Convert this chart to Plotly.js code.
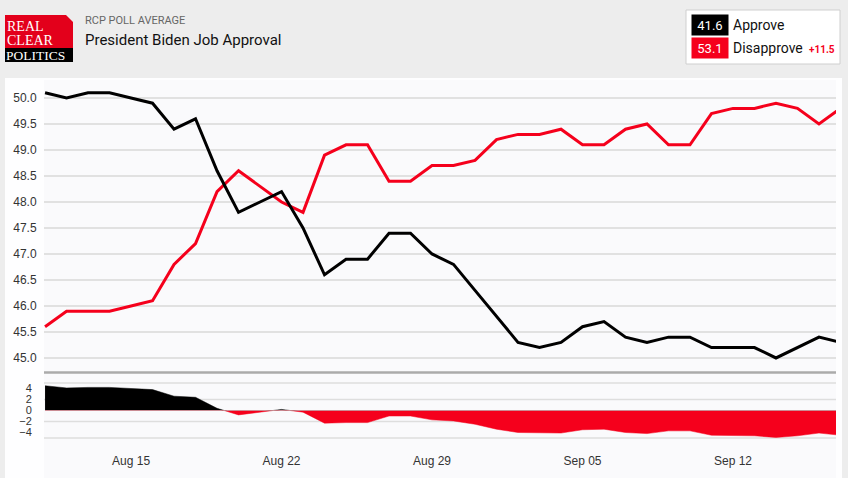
<!DOCTYPE html>
<html>
<head>
<meta charset="utf-8">
<script src="https://cdn.plot.ly/plotly-3.0.1.min.js"></script>
<style>
  html, body { margin: 0; padding: 0; background: #ededed; }
  #chart { width: 848px; height: 478px; }
</style>
</head>
<body>
<div id="chart"></div>
<script>
// daily RCP averages, Aug 11 - Sep 17 2021
var dates = ['2021-08-11','2021-08-12','2021-08-13','2021-08-14','2021-08-15','2021-08-16','2021-08-17','2021-08-18',
  '2021-08-19','2021-08-20','2021-08-21','2021-08-22','2021-08-23','2021-08-24','2021-08-25','2021-08-26',
  '2021-08-27','2021-08-28','2021-08-29','2021-08-30','2021-08-31','2021-09-01','2021-09-02','2021-09-03',
  '2021-09-04','2021-09-05','2021-09-06','2021-09-07','2021-09-08','2021-09-09','2021-09-10','2021-09-11',
  '2021-09-12','2021-09-13','2021-09-14','2021-09-15','2021-09-16','2021-09-17'];

var approve = [50.1, 50.0, 50.1, 50.1, 50.0, 49.9, 49.4, 49.6,
  48.6, 47.8, 48.0, 48.2, 47.5, 46.6, 46.9, 46.9,
  47.4, 47.4, 47.0, 46.8, 46.3, 45.8, 45.3, 45.2,
  45.3, 45.6, 45.7, 45.4, 45.3, 45.4, 45.4, 45.2,
  45.2, 45.2, 45.0, 45.2, 45.4, 45.3];

var disapprove = [45.6, 45.9, 45.9, 45.9, 46.0, 46.1, 46.8, 47.2,
  48.2, 48.6, 48.3, 48.0, 47.8, 48.9, 49.1, 49.1,
  48.4, 48.4, 48.7, 48.7, 48.8, 49.2, 49.3, 49.3,
  49.4, 49.1, 49.1, 49.4, 49.5, 49.1, 49.1, 49.7,
  49.8, 49.8, 49.9, 49.8, 49.5, 49.8];

var spread = [4.5, 4.1, 4.2, 4.2, 4.0, 3.8, 2.6, 2.4,
  0.4, -0.8, -0.3, 0.2, -0.3, -2.3, -2.2, -2.2,
  -1.0, -1.0, -1.7, -1.9, -2.5, -3.4, -4.0, -4.1,
  -4.1, -3.5, -3.4, -4.0, -4.2, -3.7, -3.7, -4.5,
  -4.6, -4.6, -4.9, -4.6, -4.1, -4.5];

var mainTicks = [45.0, 45.5, 46.0, 46.5, 47.0, 47.5, 48.0, 48.5, 49.0, 49.5, 50.0];
var spreadTicksUp = [0, 2, 4];
var spreadTicksDown = [-2, -4];
var spreadGrid = [5, 2, -2, -5];

var legendApprove = '41.6';
var legendDisapprove = '53.1';
var legendSpread = '+11.5';

var RED = '#f5001c';
var W = 848, H = 478;
function px(x) { return x / W; }
function py(y) { return 1 - y / H; }

var traces = [
  { x: dates, y: disapprove, name: 'Disapprove', type: 'scatter', mode: 'lines',
    line: { color: RED, width: 3 }, xaxis: 'x', yaxis: 'y' },
  { x: dates, y: approve, name: 'Approve', type: 'scatter', mode: 'lines',
    line: { color: '#000', width: 3 }, xaxis: 'x', yaxis: 'y' },
  // spread: same data on two half-axes so each colour clips at zero
  { x: dates, y: spread, type: 'scatter', mode: 'lines', fill: 'tozeroy',
    fillcolor: '#000', line: { color: '#000', width: 0.5 }, xaxis: 'x', yaxis: 'y2' },
  { x: dates, y: spread, type: 'scatter', mode: 'lines', fill: 'tozeroy',
    fillcolor: RED, line: { color: RED, width: 0.5 }, xaxis: 'x', yaxis: 'y3' }
];

var tickFont = { family: 'Liberation Sans, Arial, sans-serif', size: 12, color: '#333' };
var spreadFont = { family: 'Liberation Sans, Arial, sans-serif', size: 11, color: '#333' };

var shapes = [
  // card
  { type: 'rect', xref: 'paper', yref: 'paper', x0: px(5), x1: px(842), y0: 0, y1: py(78),
    fillcolor: '#fefeff', line: { width: 0 }, layer: 'below' },
  // plot area tint
  { type: 'rect', xref: 'paper', yref: 'paper', x0: px(44), x1: px(836), y0: 0, y1: py(80),
    fillcolor: '#fafafc', line: { width: 0 }, layer: 'below' },
  // logo
  { type: 'rect', xref: 'paper', yref: 'paper', x0: px(5), x1: px(73), y0: py(62), y1: py(15),
    fillcolor: '#e3001b', line: { width: 0 } },
  { type: 'rect', xref: 'paper', yref: 'paper', x0: px(5), x1: px(73), y0: py(62), y1: py(48),
    fillcolor: '#000', line: { width: 0 } },
  { type: 'path', xref: 'paper', yref: 'paper',
    path: 'M ' + px(66) + ',' + py(15) + ' L ' + px(73) + ',' + py(15) + ' L ' + px(73) + ',' + py(22) + ' Z',
    fillcolor: '#ededed', line: { width: 0 } },
  // legend box
  { type: 'rect', xref: 'paper', yref: 'paper', x0: px(686), x1: px(840), y0: py(64), y1: py(10),
    fillcolor: '#fff', line: { color: '#cfcfcf', width: 1 } },
  // separator between panels
  { type: 'line', xref: 'paper', yref: 'paper', x0: px(44), x1: px(836), y0: py(372.5), y1: py(372.5),
    line: { color: '#ababab', width: 2.5 } }
];

spreadGrid.forEach(function (v) {
  shapes.push({ type: 'line', xref: 'paper', yref: v > 0 ? 'y2' : 'y3',
    x0: px(44), x1: px(836), y0: v, y1: v, layer: 'below',
    line: { color: '#dedede', width: 1.5 } });
});

var hdr = 'Roboto, Arial, sans-serif';
var serif = 'Liberation Serif, DejaVu Serif, serif';
var annotations = [
  { text: 'REAL', x: px(5), y: py(26.5), xref: 'paper', yref: 'paper', xanchor: 'left', yanchor: 'middle',
    showarrow: false, font: { family: serif, size: 14, color: '#fff' } },
  { text: 'CLEAR', x: px(5), y: py(40.5), xref: 'paper', yref: 'paper', xanchor: 'left', yanchor: 'middle',
    showarrow: false, font: { family: serif, size: 14, color: '#fff' } },
  { text: 'POLITICS', x: px(4), y: py(55), xref: 'paper', yref: 'paper', xanchor: 'left', yanchor: 'middle',
    showarrow: false, font: { family: serif, size: 13.5, color: '#fff' } },
  { text: 'RCP POLL AVERAGE', x: px(83), y: py(21), xref: 'paper', yref: 'paper', xanchor: 'left', yanchor: 'middle',
    showarrow: false, font: { family: hdr, size: 11, color: '#666' } },
  { text: 'President Biden Job Approval', x: px(83), y: py(40), xref: 'paper', yref: 'paper', xanchor: 'left', yanchor: 'middle',
    showarrow: false, font: { family: hdr, size: 15, color: '#111' } },
  { text: legendApprove, x: px(691), y: py(25), xref: 'paper', yref: 'paper', xanchor: 'left', yanchor: 'middle',
    showarrow: false, bgcolor: '#000', width: 34, height: 18, borderpad: 1,
    font: { family: hdr, size: 13, color: '#fff' } },
  { text: 'Approve', x: px(731), y: py(25), xref: 'paper', yref: 'paper', xanchor: 'left', yanchor: 'middle',
    showarrow: false, font: { family: hdr, size: 14, color: '#111' } },
  { text: legendDisapprove, x: px(691), y: py(48), xref: 'paper', yref: 'paper', xanchor: 'left', yanchor: 'middle',
    showarrow: false, bgcolor: RED, width: 34, height: 18, borderpad: 1,
    font: { family: hdr, size: 13, color: '#fff' } },
  { text: 'Disapprove', x: px(731), y: py(48), xref: 'paper', yref: 'paper', xanchor: 'left', yanchor: 'middle',
    showarrow: false, font: { family: hdr, size: 14, color: '#111' } },
  { text: '<b>' + legendSpread + '</b>', x: px(807), y: py(49), xref: 'paper', yref: 'paper', xanchor: 'left', yanchor: 'middle',
    showarrow: false, font: { family: hdr, size: 10, color: RED } }
];

var layout = {
  width: W,
  height: H,
  margin: { l: 0, r: 0, t: 0, b: 0, pad: 0 },
  paper_bgcolor: '#ededed',
  plot_bgcolor: 'rgba(0,0,0,0)',
  showlegend: false,
  xaxis: {
    type: 'date',
    domain: [px(44), px(836)],
    range: ['2021-08-10 22:50', '2021-09-16 19:00'],
    anchor: 'free',
    position: py(440.75),
    showgrid: false,
    zeroline: false,
    showline: false,
    tick0: '2021-08-15',
    dtick: 7 * 24 * 3600 * 1000,
    tickformat: '%b %d',
    ticks: 'outside',
    ticklen: 9,
    tickcolor: 'rgba(0,0,0,0)',
    tickfont: tickFont
  },
  yaxis: {
    domain: [py(372), py(80)],
    range: [44.73, 50.346],
    anchor: 'x',
    tickmode: 'array',
    tickvals: mainTicks,
    tickformat: '.1f',
    showgrid: true,
    gridcolor: '#e1e1e1',
    gridwidth: 2,
    zeroline: false,
    showline: false,
    ticks: 'outside',
    ticklen: 4,
    tickcolor: 'rgba(0,0,0,0)',
    tickfont: tickFont
  },
  yaxis2: {
    domain: [py(410.5), py(380.25)],
    range: [0, 5.5],
    anchor: 'x',
    tickmode: 'array',
    tickvals: spreadTicksUp,
    showgrid: false,
    zeroline: false,
    showline: false,
    ticks: 'outside',
    ticklen: 9,
    tickcolor: 'rgba(0,0,0,0)',
    tickfont: spreadFont
  },
  yaxis3: {
    domain: [py(440.75), py(410.5)],
    range: [-5.5, 0],
    anchor: 'x',
    tickmode: 'array',
    tickvals: spreadTicksDown,
    showgrid: false,
    zeroline: false,
    showline: false,
    ticks: 'outside',
    ticklen: 9,
    tickcolor: 'rgba(0,0,0,0)',
    tickfont: spreadFont
  },
  shapes: shapes,
  annotations: annotations
};

var config = { displayModeBar: false, staticPlot: true, responsive: false };

Plotly.newPlot('chart', traces, layout, config);
</script>
</body>
</html>
